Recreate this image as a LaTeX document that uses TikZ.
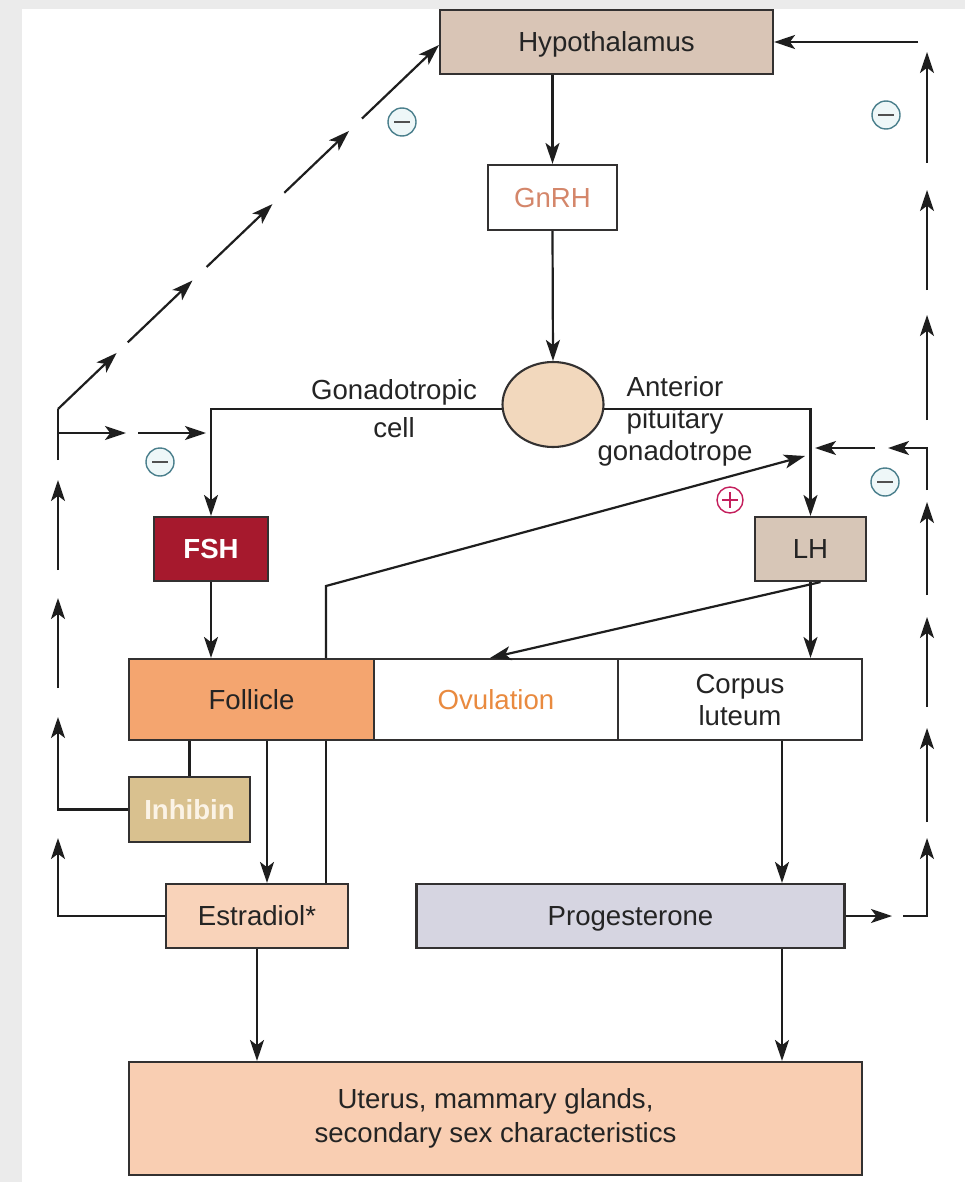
\documentclass[tikz,border=0pt]{standalone}
\usepackage{fontspec}
\setmainfont{Liberation Sans}
\usetikzlibrary{arrows.meta,calc,shapes.geometric}
\definecolor{frameC}{HTML}{EBEBEB}
\definecolor{boxline}{HTML}{333131}
\definecolor{lineC}{HTML}{1E1E1E}
\definecolor{txt}{HTML}{242424}
\definecolor{hypoC}{HTML}{D9C5B6}
\definecolor{gnrhT}{HTML}{D4866A}
\definecolor{pitC}{HTML}{F2D8BD}
\definecolor{fshC}{HTML}{A6192D}
\definecolor{lhC}{HTML}{D7C6B7}
\definecolor{folC}{HTML}{F4A56F}
\definecolor{ovuT}{HTML}{E98A3F}
\definecolor{inhC}{HTML}{D9C18F}
\definecolor{inhT}{HTML}{FBF3E6}
\definecolor{estC}{HTML}{F9D3BA}
\definecolor{proC}{HTML}{D6D5E1}
\definecolor{uteC}{HTML}{F9CEB2}
\definecolor{negC}{HTML}{4A7F8C}
\definecolor{negF}{HTML}{EEF7F8}
\definecolor{posC}{HTML}{C41E5C}
\begin{document}
\begin{tikzpicture}[x=0.5pt,y=-0.5pt,
  box/.style={draw=boxline, line width=1.05pt, inner sep=0pt, align=center,
    font=\fontsize{13.8}{16}\selectfont, text=txt},
  capc/.style={text height=9.9pt, text depth=0pt},
  conn/.style={draw=lineC, line width=1.1pt},
  arr/.style={conn, -{Stealth[length=10.5pt,width=7pt,inset=2.6pt]}},
  lbl/.style={align=center, inner sep=0pt, font=\fontsize{13.8}{16}\selectfont, text=txt},
  negsym/.style={circle, draw=negC, fill=negF, line width=0.7pt, minimum size=14pt, inner sep=0pt,
    path picture={\draw[txt!80, line width=1.3pt] ([xshift=-3.8pt]path picture bounding box.center) -- ([xshift=3.8pt]path picture bounding box.center);}},
  possym/.style={circle, draw=posC, fill=white, line width=0.7pt, minimum size=13pt, inner sep=0pt,
    path picture={\draw[posC, line width=0.9pt] ([xshift=-3.8pt]path picture bounding box.center) -- ([xshift=3.8pt]path picture bounding box.center);
      \draw[posC, line width=0.9pt] ([yshift=-3.8pt]path picture bounding box.center) -- ([yshift=3.8pt]path picture bounding box.center);}}
]
\fill[frameC] (0,0) rectangle (965,1182);
\fill[white] (22,9) rectangle (965,1182);
\useasboundingbox (0,0) rectangle (965,1182);

% nodes
\node[box, capc, fill=hypoC, minimum width=166.5pt, minimum height=32pt] (hyp) at (606.5,42) {Hypothalamus};
\node[box, capc, fill=white, text=gnrhT, minimum width=64.5pt, minimum height=32.5pt] (gnrh) at (552.5,197.5) {GnRH};
\node[ellipse, draw=boxline, line width=1.05pt, fill=pitC, minimum width=50.5pt, minimum height=42.5pt, inner sep=0pt] (pit) at (553,404.5) {};
\node[lbl] (gcell) at (394,409) {Gonadotropic\\[3pt]cell};
\node[lbl] (apg) at (675,421) {Anterior\\pituitary\\gonadotrope};
\node[box, capc, fill=fshC, text=white, font=\fontsize{13.8}{16}\selectfont\bfseries, minimum width=57pt, minimum height=32pt] (fsh) at (211,549) {FSH};
\node[box, capc, fill=lhC, minimum width=55.5pt, minimum height=32pt] (lh) at (810.5,549) {LH};
\node[box, capc, fill=folC, minimum width=122.5pt, minimum height=40.5pt] (fol) at (251.5,699.5) {Follicle};
\node[box, capc, fill=white, text=ovuT, minimum width=122pt, minimum height=40.5pt] (ovu) at (496,699.5) {Ovulation};
\node[box, fill=white, minimum width=122pt, minimum height=40.5pt] (cor) at (740,699.5) {Corpus\\luteum};
\node[box, capc, fill=inhC, text=inhT, font=\fontsize{13.8}{16}\selectfont\bfseries, minimum width=60.5pt, minimum height=32.5pt] (inh) at (189.5,809.5) {Inhibin};
\node[box, capc, fill=estC, minimum width=91pt, minimum height=32pt] (est) at (257,916) {Estradiol*};
\node[box, capc, fill=proC, minimum width=214pt, minimum height=32pt] (pro) at (630.5,916) {Progesterone};
\node[box, fill=uteC, minimum width=366.5pt, minimum height=56.5pt, font=\fontsize{13.8}{17}\selectfont] (ute) at (495.5,1118.5) {Uterus, mammary glands,\\secondary sex characteristics};

% feedback symbols
\node[negsym] (n1) at (402,122) {};
\node[negsym] (n2) at (886,115) {};
\node[negsym] (n3) at (160,462) {};
\node[negsym] (n4) at (885,482) {};
\node[possym] (p1) at (730,500) {};

% main axis
\draw[arr] (gnrh.north |- hyp.south) -- (gnrh.north);
\draw[arr] (gnrh.south) -- (pit.north);
\draw[arr] (pit.185) -| (fsh.north);
\draw[arr] (pit.-5) -| (lh.north);
\draw[arr] (fsh.south) -- (fsh.south |- fol.north);
\draw[arr] (lh.south) -- (lh.south |- cor.north);
\draw[arr] ([xshift=5pt]lh.south) -- ([xshift=-3pt]ovu.north);
\draw[conn] (inh.north |- fol.south) -- (inh.north);
\draw[arr] (fol.south -| 267,0) -- (est.north -| 267,0);
\draw[arr] (cor.south -| 782,0) -- (pro.north -| 782,0);
\draw[arr] (pro.south -| 782,0) -- (ute.north -| 782,0);
\draw[arr] (est.south) -- (est.south |- ute.north);

% positive feedback of estradiol on the gonadotrope
\coordinate (pk) at (326,586);
\coordinate (pe) at (805,456);
\draw[conn] (est.north -| pk) -- (fol.south -| pk);
\draw[arr] (fol.north -| pk) -- (pk) -- (pe);

% left negative feedback loop
\coordinate (lc) at (58,409);
\draw[arr] (inh.west) -| (58,717);
\draw[arr] (est.west) -| (58,838);
\draw[arr] (58,688) -- (58,598);
\draw[arr] (58,570) -- (58,480);
\draw[conn] (58,460) -- (lc);
\draw[arr] (58,433) -- (126,433);
\draw[arr] (138,433) -- (206,433);
\coordinate (hw) at ([yshift=-1.5pt]hyp.west);
\draw[arr] (lc) -- ($(lc)!0.154!(hw)$);
\draw[arr] ($(lc)!0.183!(hw)$) -- ($(lc)!0.353!(hw)$);
\draw[arr] ($(lc)!0.390!(hw)$) -- ($(lc)!0.563!(hw)$);
\draw[arr] ($(lc)!0.594!(hw)$) -- ($(lc)!0.764!(hw)$);
\draw[arr] ($(lc)!0.798!(hw)$) -- (hw);

% right negative feedback loop
\draw[arr] (pro.east) -- (892,916);
\draw[arr] (903,916) -| (927,838);
\draw[arr] (927,822) -- (927,728);
\draw[arr] (927,707) -- (927,617);
\draw[arr] (927,595) -- (927,502);
\draw[arr] (927,490) |- (888,448);
\draw[arr] (875,448) -- (815,448);
\draw[arr] (927,420) -- (927,315);
\draw[arr] (927,290) -- (927,190);
\draw[arr] (927,163) -- (927,52);
\draw[arr] (918,42) -- (hyp.east);
\end{tikzpicture}
\end{document}
